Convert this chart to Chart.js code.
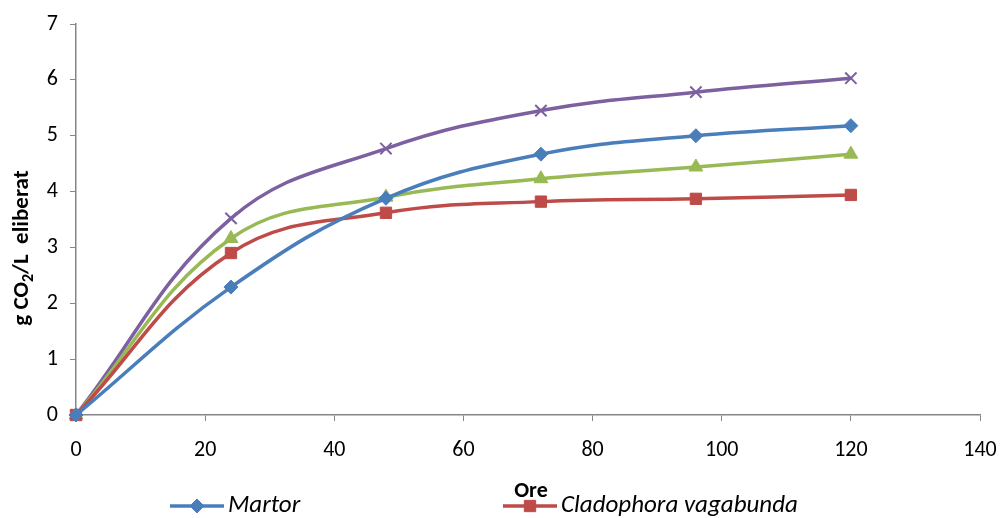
<!DOCTYPE html>
<html><head><meta charset="utf-8">
<script src="https://cdn.jsdelivr.net/npm/chart.js@4/dist/chart.umd.min.js"></script>
<style>html,body{margin:0;padding:0;background:#fff;overflow:hidden}#wrap{width:1003px;height:518px;position:relative}</style>
</head><body><div id="wrap"><canvas id="c" width="1003" height="518"></canvas></div>
<script>
const hours = [0, 24, 48, 72, 96, 120];
const martor = [0, 2.29, 3.88, 4.67, 5.00, 5.18];
const cladophora = [0, 2.90, 3.62, 3.82, 3.87, 3.94];
const serie3 = [0, 3.16, 3.90, 4.23, 4.44, 4.67];
const serie4 = [0, 3.52, 4.77, 5.45, 5.78, 6.03];
const seriesNames = ['Martor', 'Cladophora vagabunda', 'Serie 3', 'Serie 4'];
const xTitle = 'Ore';
const FONT = 'Carlito, Calibri, Lato, sans-serif';

function pts(vals){ return hours.map((h,i)=>({x:h,y:vals[i]})); }
const colors = ['#4A7EBB','#BE4B48','#98B954','#7D60A0'];
const styles = ['rectRot','rect','triangle','crossRot'];
const radii = [7,8,8,8];
const allVals = [martor, cladophora, serie3, serie4];

const datasets = allVals.map((v,i)=>({
  label: seriesNames[i], data: pts(v),
  borderColor: colors[i], backgroundColor: colors[i],
  borderWidth: 3.5, tension: 0.4, clip: false,
  pointStyle: styles[i], pointRadius: radii[i],
  pointBorderColor: colors[i], pointBackgroundColor: colors[i],
  pointBorderWidth: i===3 ? 2 : 1
}));

const overlay = {
  id:'overlay',
  afterDraw(chart){
    const ctx = chart.ctx;
    ctx.save();
    ctx.translate(22, 248);
    ctx.rotate(-Math.PI/2);
    ctx.fillStyle = '#000';
    ctx.textBaseline = 'middle';
    const big = 'bold 23px ' + FONT, small = 'bold 16px ' + FONT;
    const parts = [['g CO', big, 0], ['2', small, 7], ['/L  eliberat', big, 0]];
    let total = 0;
    parts.forEach(p=>{ ctx.font = p[1]; total += ctx.measureText(p[0]).width; });
    let x = -total/2;
    parts.forEach(p=>{ ctx.font = p[1]; ctx.textAlign='left'; ctx.fillText(p[0], x, p[2]); x += ctx.measureText(p[0]).width; });
    ctx.restore();

    ctx.save();
    ctx.font = 'bold 22px ' + FONT;
    ctx.fillStyle = '#000';
    ctx.textAlign = 'center';
    ctx.textBaseline = 'middle';
    ctx.fillText(xTitle, 531, 491);
    const pos = [[170,506],[503,506],[170,540],[503,540]];
    chart.data.datasets.forEach((ds,i)=>{
      const [lx,ly] = pos[i];
      ctx.strokeStyle = ds.borderColor; ctx.lineWidth = 3.5;
      ctx.beginPath(); ctx.moveTo(lx,ly); ctx.lineTo(lx+54,ly); ctx.stroke();
      ctx.save();
      ctx.fillStyle = ds.backgroundColor; ctx.strokeStyle = ds.borderColor; ctx.lineWidth = ds.pointBorderWidth;
      Chart.helpers.drawPoint(ctx, {pointStyle: ds.pointStyle, radius: ds.pointRadius, borderWidth: ds.pointBorderWidth}, lx+27, ly);
      ctx.restore();
      ctx.font = 'italic 25px ' + FONT;
      ctx.fillStyle = '#000'; ctx.textAlign='left'; ctx.textBaseline='middle';
      ctx.fillText(ds.label, lx+58, ly);
    });
    ctx.restore();
  }
};

new Chart(document.getElementById('c'), {
  type: 'line',
  data: { datasets },
  options: {
    responsive: false, animation: false,
    layout: { padding: { left: 0, right: 23, top: 24, bottom: 0 } },
    plugins: { legend: { display: false }, tooltip: { enabled: false } },
    scales: {
      x: {
        type: 'linear', min: 0, max: 140,
        ticks: { stepSize: 20, color: '#000', font: { family: FONT, size: 22 }, padding: 16, maxRotation: 0 },
        grid: { drawOnChartArea: false, drawTicks: true, tickLength: 6, color: '#868686' },
        border: { display: true, color: '#868686', width: 1.5 },
        afterFit(s){ s.height = 103; s.paddingLeft = 0; s.paddingRight = 0; }
      },
      y: {
        min: 0, max: 7,
        ticks: { stepSize: 1, color: '#000', font: { family: FONT, size: 22 }, padding: 12 },
        grid: { drawOnChartArea: false, drawTicks: true, tickLength: 6, color: '#868686' },
        border: { display: true, color: '#868686', width: 1.5 },
        afterFit(s){ s.width = 76; s.paddingTop = 0; s.paddingBottom = 0; }
      }
    }
  },
  plugins: [overlay]
});
</script></body></html>
